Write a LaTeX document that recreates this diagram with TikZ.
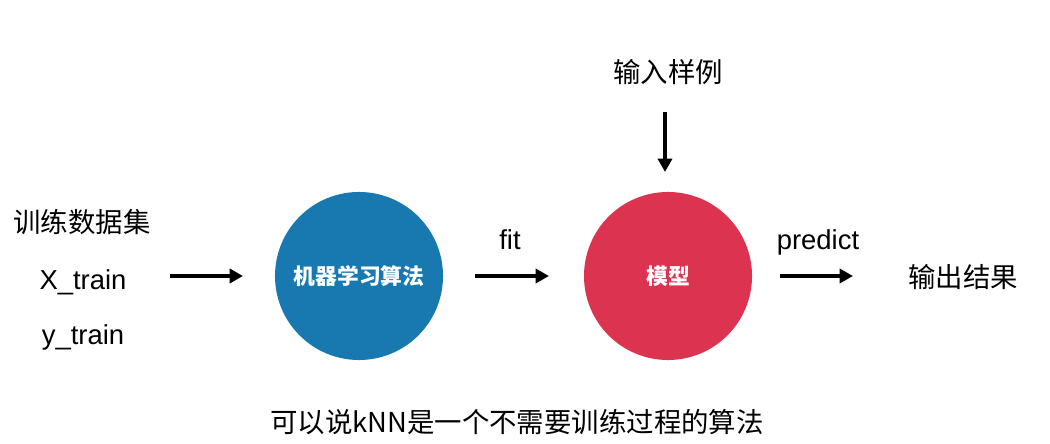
\documentclass[tikz,border=0pt]{standalone}
\usepackage{fontspec}
\setmainfont{Liberation Sans}
\newfontfamily\cjk{Noto Sans CJK SC}
\usetikzlibrary{arrows.meta}
\definecolor{algoblue}{RGB}{24,121,176}
\definecolor{modelred}{RGB}{219,51,80}
\tikzset{
	arr/.style={line width=2.5pt, -{Triangle[length=9.5pt,width=10pt]}},
	txt/.style={font=\cjk\fontsize{19.5}{24}\selectfont},
	lat/.style={font=\fontsize{19.5}{24}\selectfont, anchor=base},
	ball/.style={circle, minimum size=4.2cm, inner sep=0pt, text=white, font=\cjk\bfseries\fontsize{15.5}{18}\selectfont}
}

\begin{document}
\begin{tikzpicture}[x=0.025cm, y=-0.025cm]
			%%%%% START %%%%%
			
			\useasboundingbox (0, 0) rectangle (1050, 444);
			
			\node[txt] (data) at (82, 222) {训练数据集};
			\node[lat] (xtrain) at (83, 290) {X\_train};
			\node[lat] (ytrain) at (83, 345) {y\_train};
			
			\node[ball, fill=algoblue] (algo) at (359, 276) {机器学习算法};
			\node[ball, fill=modelred] (model) at (668, 276) {模型};
			
			\node[txt] (sample) at (668, 72) {输入样例};
			\node[txt] (result) at (963, 277) {输出结果};
			
			\node[lat] (fit) at (510, 250) {fit};
			\node[lat] (predict) at (818, 250) {predict};
			
			\coordinate (in0) at (170, 276);
			\coordinate (in1) at (243, 276);
			\coordinate (fit0) at (475, 276);
			\coordinate (fit1) at (549, 276);
			\coordinate (pr0) at (780, 276);
			\coordinate (pr1) at (853, 276);
			\coordinate (sm0) at (665, 112);
			\coordinate (sm1) at (665, 172);
			
			\draw[arr] (in0) -- (in1);
			\draw[arr] (fit0) -- (fit1);
			\draw[arr] (pr0) -- (pr1);
			\draw[arr] (sm0) -- (sm1);
			
			\node[txt] (note) at (517, 422) {可以说kNN是一个不需要训练过程的算法};
			
			%%%%% END %%%%%
\end{tikzpicture}
\end{document}
